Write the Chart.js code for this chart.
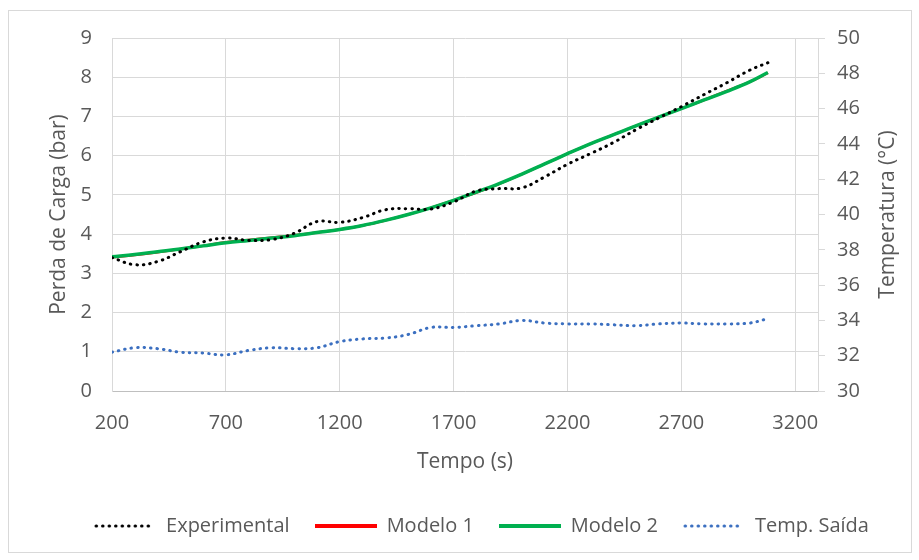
<!DOCTYPE html>
<html lang="pt">
<head>
  <meta charset="UTF-8">
  <title>Perda de Carga x Tempo</title>
  <script src="https://cdn.jsdelivr.net/npm/chart.js"></script>
  <style>
    body {
      margin: 0;
      background: #fff;
    }
    .wrap {
      position: relative;
      width: 919px;
      height: 560px;
    }
    .frame {
      position: absolute;
      left: 8px;
      top: 10px;
      width: 902px;
      height: 541px;
      border: 1px solid #d9d9d9;
      pointer-events: none;
    }
  </style>
</head>
<body>
  <div class="wrap">
    <canvas id="chart" width="919" height="560"></canvas>
    <div class="frame"></div>
  </div>

  <script>
    // tempo (s)
    const tempo = [200, 300, 400, 500, 600, 700, 800, 900, 1000, 1100,
      1200, 1300, 1400, 1500, 1600, 1700, 1800, 1900, 2000, 2100,
      2200, 2300, 2400, 2500, 2600, 2700, 2800, 2900, 3000, 3080];

    // perda de carga (bar)
    const experimental = [3.40, 3.22, 3.30, 3.55, 3.80, 3.90, 3.84, 3.86, 4.02, 4.32,
      4.30, 4.42, 4.62, 4.65, 4.64, 4.82, 5.10, 5.16, 5.18, 5.46,
      5.78, 6.05, 6.33, 6.66, 6.96, 7.25, 7.56, 7.86, 8.18, 8.37];
    const modelo1 = [3.41, 3.47, 3.54, 3.62, 3.70, 3.79, 3.85, 3.91, 3.97, 4.04,
      4.12, 4.22, 4.35, 4.50, 4.67, 4.86, 5.06, 5.28, 5.53, 5.79,
      6.05, 6.30, 6.53, 6.76, 6.98, 7.20, 7.42, 7.65, 7.88, 8.11];
    const modelo2 = [3.42, 3.48, 3.55, 3.62, 3.70, 3.78, 3.84, 3.90, 3.96, 4.04,
      4.12, 4.22, 4.35, 4.50, 4.67, 4.86, 5.07, 5.29, 5.53, 5.79,
      6.05, 6.30, 6.53, 6.76, 6.98, 7.20, 7.42, 7.64, 7.88, 8.12];

    // temperatura de saída (°C)
    const tempSaida = [32.2, 32.45, 32.4, 32.2, 32.15, 32.05, 32.3, 32.45, 32.4, 32.45,
      32.8, 32.95, 33.0, 33.2, 33.6, 33.6, 33.7, 33.8, 34.0, 33.85,
      33.8, 33.8, 33.75, 33.7, 33.8, 33.85, 33.8, 33.8, 33.85, 34.1];

    const xTicks = [200, 700, 1200, 1700, 2200, 2700, 3200];

    const toPoints = ys => tempo.map((t, i) => ({ x: t, y: ys[i] }));

    const grey = '#595959';
    const gridColor = '#d9d9d9';
    const font = 'Open Sans';

    // little canvas used as legend symbol, so the dotted ones stay dotted
    function legendIcon(color, width, dash) {
      const c = document.createElement('canvas');
      c.width = 62;
      c.height = 8;
      const ctx = c.getContext('2d');
      ctx.strokeStyle = color;
      ctx.lineWidth = width;
      ctx.lineCap = dash ? 'round' : 'butt';
      ctx.setLineDash(dash || []);
      ctx.beginPath();
      ctx.moveTo(dash ? 2 : 0, 4);
      ctx.lineTo(dash ? 60 : 62, 4);
      ctx.stroke();
      return c;
    }

    // Excel puts the right title bottom-to-top, Chart.js doesn't
    const rightTitle = {
      id: 'rightTitle',
      afterDraw(chart) {
        const ctx = chart.ctx;
        const area = chart.chartArea;
        ctx.save();
        ctx.translate(888, (area.top + area.bottom) / 2);
        ctx.rotate(-Math.PI / 2);
        ctx.fillStyle = grey;
        ctx.font = '21px "' + font + '"';
        ctx.textAlign = 'center';
        ctx.textBaseline = 'middle';
        ctx.fillText('Temperatura (°C)', 0, 0);
        ctx.restore();
      }
    };

    // legend in the original sits a bit right of the canvas centre
    const legendShift = {
      id: 'legendShift',
      afterLayout(chart) {
        chart.legend.left += 22;
        chart.legend.right += 22;
      }
    };

    new Chart(document.getElementById('chart'), {
      type: 'line',
      data: {
        datasets: [
          {
            label: 'Experimental',
            data: toPoints(experimental),
            yAxisID: 'y',
            borderColor: '#000000',
            borderWidth: 3,
            borderDash: [0.5, 6],
            borderCapStyle: 'round',
            tension: 0.4,
            pointRadius: 0,
            pointStyle: legendIcon('#000000', 3, [0.5, 6]),
            order: 0
          },
          {
            label: 'Modelo 1',
            data: toPoints(modelo1),
            yAxisID: 'y',
            borderColor: '#ff0000',
            borderWidth: 2.5,
            tension: 0.4,
            pointRadius: 0,
            pointStyle: legendIcon('#ff0000', 4),
            order: 2
          },
          {
            label: 'Modelo 2',
            data: toPoints(modelo2),
            yAxisID: 'y',
            borderColor: '#00b050',
            borderWidth: 3.5,
            tension: 0.4,
            pointRadius: 0,
            pointStyle: legendIcon('#00b050', 4),
            order: 1
          },
          {
            label: 'Temp. Saída',
            data: toPoints(tempSaida),
            yAxisID: 'y1',
            borderColor: '#3b6fc0',
            borderWidth: 3,
            borderDash: [0.5, 6],
            borderCapStyle: 'round',
            tension: 0.4,
            pointRadius: 0,
            pointStyle: legendIcon('#3b6fc0', 3, [0.5, 6]),
            order: 3
          }
        ]
      },
      options: {
        responsive: false,
        animation: false,
        layout: {
          padding: { top: 38, left: 0, right: 0, bottom: 14 }
        },
        plugins: {
          legend: {
            position: 'bottom',
            labels: {
              usePointStyle: true,
              pointStyleWidth: 62,
              padding: 25,
              color: grey,
              font: { family: font, size: 20 },
              sort: (a, b) => a.datasetIndex - b.datasetIndex
            }
          },
          tooltip: { enabled: false }
        },
        scales: {
          x: {
            type: 'linear',
            min: 200,
            max: 3300,
            afterBuildTicks: s => { s.ticks = xTicks.map(v => ({ value: v })); },
            afterFit: s => { s.height = 100; },
            ticks: {
              color: grey,
              padding: 20,
              font: { family: font, size: 20 },
              callback: v => String(v)
            },
            grid: { color: gridColor, drawTicks: false },
            border: { color: '#bfbfbf' },
            title: {
              display: true,
              text: 'Tempo (s)',
              color: grey,
              font: { family: font, size: 21 },
              padding: { top: 0, bottom: 16 }
            }
          },
          y: {
            position: 'left',
            min: 0,
            max: 9,
            afterFit: s => { s.width = 112; },
            ticks: {
              stepSize: 1,
              color: grey,
              padding: 20,
              font: { family: font, size: 20 }
            },
            grid: { color: gridColor, drawTicks: false },
            border: { color: gridColor },
            title: {
              display: true,
              text: 'Perda de Carga (bar)',
              color: grey,
              font: { family: font, size: 21 },
              padding: { top: 46, bottom: 0 }
            }
          },
          y1: {
            position: 'right',
            min: 30,
            max: 50,
            afterFit: s => { s.width = 101; },
            ticks: {
              stepSize: 2,
              color: grey,
              padding: 12,
              font: { family: font, size: 20 }
            },
            grid: { drawOnChartArea: false, color: gridColor, tickLength: 7 },
            border: { color: gridColor }
          }
        }
      },
      plugins: [rightTitle, legendShift]
    });
  </script>
</body>
</html>
